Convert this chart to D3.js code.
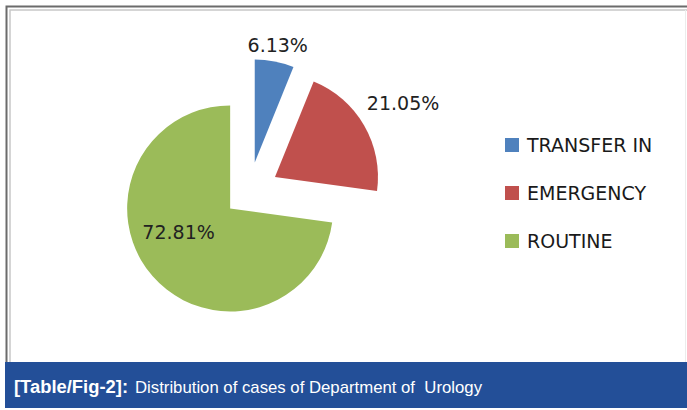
<!DOCTYPE html>
<html>
<head>
<meta charset="utf-8">
<script src="https://cdn.jsdelivr.net/npm/d3@7"></script>
<style>
    html, body { margin: 0; padding: 0; background: #fff; }
    #chart { width: 687px; height: 410px; }
</style>
</head>
<body>
<div id="chart"></div>
<script>
// data
const categories = ["TRANSFER IN", "EMERGENCY", "ROUTINE"];
const shares = [6.13, 21.05, 72.81];
const colors = ["#4f81bd", "#c0504d", "#9bbb59"];
const captionLabel = "[Table/Fig-2]:";
const captionText = "Distribution of cases of Department of  Urology";

const width = 687, height = 410;

const svg = d3.select("#chart").append("svg")
    .attr("width", width)
    .attr("height", height)
    .style("font-family", "'DejaVu Sans', sans-serif");

// frame (double grey rule, like the pasted Excel chart)
svg.append("path")
    .attr("d", "M6.5,362 V6.5 H687")
    .attr("fill", "none").attr("stroke", "#6b6b6b").attr("stroke-width", 2);
svg.append("path")
    .attr("d", "M10,362 V10 H687")
    .attr("fill", "none").attr("stroke", "#c8c8c8").attr("stroke-width", 1.5);
svg.append("line")
    .attr("x1", 685.5).attr("x2", 685.5).attr("y1", 10).attr("y2", 362)
    .attr("stroke", "#ececec");

// pie
const cx = 249, cy = 192, r = 103;
const explode = [30, 30, 25];
const labelR = [150, 178, 56];

const pie = d3.pie().sort(null).value(d => d.value);
const arcs = pie(categories.map((c, i) => ({ name: c, value: shares[i], i })));
const arc = d3.arc().innerRadius(0).outerRadius(r);

const g = svg.append("g").attr("transform", `translate(${cx},${cy})`);

const slices = g.selectAll("g.slice")
    .data(arcs)
    .enter()
    .append("g")
    .attr("class", "slice")
    .attr("transform", d => {
        const a = (d.startAngle + d.endAngle) / 2;
        const e = explode[d.data.i];
        return `translate(${e * Math.sin(a)},${-e * Math.cos(a)})`;
    });

slices.append("path")
    .attr("d", arc)
    .attr("fill", d => colors[d.data.i]);

// value labels (outside for the two small slices, inside for the big one)
function labelPos(d) {
    const inside = d.data.i === 2;
    const a = (d.startAngle + d.endAngle) / 2 + (inside ? 0.2 : 0);
    const rr = labelR[d.data.i] + (inside ? explode[2] : 0);
    return [rr * Math.sin(a), -rr * Math.cos(a)];
}

g.selectAll("text.val")
    .data(arcs)
    .enter()
    .append("text")
    .attr("class", "val")
    .attr("x", d => labelPos(d)[0])
    .attr("y", d => labelPos(d)[1])
    .attr("text-anchor", "middle")
    .attr("dominant-baseline", "central")
    .attr("font-size", 19)
    .attr("fill", "#222")
    .text(d => d.data.value.toFixed(2) + "%");

// legend
const legend = svg.append("g").attr("transform", "translate(505,145)");
const items = legend.selectAll("g")
    .data(categories)
    .enter()
    .append("g")
    .attr("transform", (d, i) => `translate(0,${i * 48})`);

items.append("rect")
    .attr("x", 0).attr("y", -7)
    .attr("width", 14).attr("height", 14)
    .attr("fill", (d, i) => colors[i]);

items.append("text")
    .attr("x", 22)
    .attr("y", 0)
    .attr("dominant-baseline", "central")
    .attr("font-size", 19)
    .attr("fill", "#1a1a1a")
    .text(d => d);

// caption bar
svg.append("rect")
    .attr("x", 5).attr("y", 362)
    .attr("width", width - 5).attr("height", 46)
    .attr("fill", "#234f98");

svg.append("text")
    .attr("x", 14)
    .attr("y", 393)
    .attr("fill", "#fff")
    .attr("font-weight", "bold")
    .attr("font-size", 18)
    .attr("textLength", 114)
    .attr("lengthAdjust", "spacingAndGlyphs")
    .style("font-family", "'Liberation Sans', Arial, sans-serif")
    .text(captionLabel);

svg.append("text")
    .attr("x", 135)
    .attr("y", 393)
    .attr("fill", "#fff")
    .attr("font-size", 17)
    .attr("textLength", 347)
    .attr("lengthAdjust", "spacingAndGlyphs")
    .style("white-space", "pre")
    .style("font-family", "'Liberation Sans', Arial, sans-serif")
    .text(captionText);
</script>
</body>
</html>
